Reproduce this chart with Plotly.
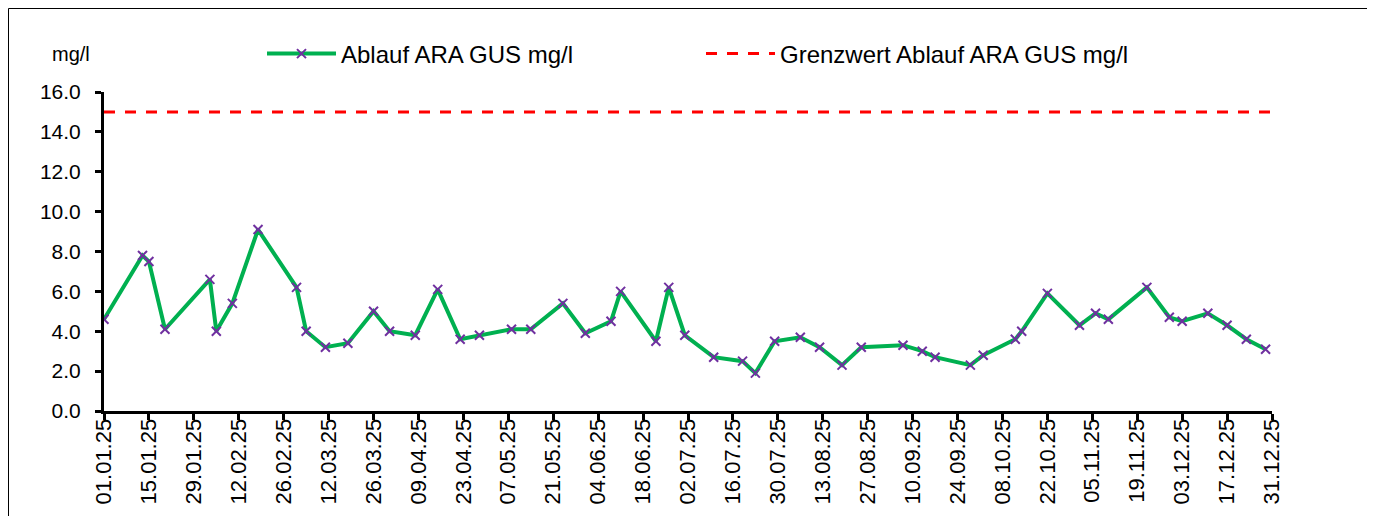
import plotly.graph_objects as go

# ---- data ----
dates = [
    "2025-01-01", "2025-01-13", "2025-01-15", "2025-01-20", "2025-02-03", "2025-02-05",
    "2025-02-10", "2025-02-18", "2025-03-02", "2025-03-05", "2025-03-11", "2025-03-18",
    "2025-03-26", "2025-03-31", "2025-04-08", "2025-04-15", "2025-04-22", "2025-04-28",
    "2025-05-08", "2025-05-14", "2025-05-24", "2025-05-31", "2025-06-08", "2025-06-11",
    "2025-06-22", "2025-06-26", "2025-07-01", "2025-07-10", "2025-07-19", "2025-07-23",
    "2025-07-29", "2025-08-06", "2025-08-12", "2025-08-19", "2025-08-25", "2025-09-07",
    "2025-09-13", "2025-09-17", "2025-09-28", "2025-10-02", "2025-10-12", "2025-10-14",
    "2025-10-22", "2025-11-01", "2025-11-06", "2025-11-10", "2025-11-22", "2025-11-29",
    "2025-12-03", "2025-12-11", "2025-12-17", "2025-12-23", "2025-12-29",
]
ablauf_values = [
    4.6, 7.8, 7.5, 4.1, 6.6, 4.0,
    5.4, 9.1, 6.2, 4.0, 3.2, 3.4,
    5.0, 4.0, 3.8, 6.1, 3.6, 3.8,
    4.1, 4.1, 5.4, 3.9, 4.5, 6.0,
    3.5, 6.2, 3.8, 2.7, 2.5, 1.9,
    3.5, 3.7, 3.2, 2.3, 3.2, 3.3,
    3.0, 2.7, 2.3, 2.8, 3.6, 4.0,
    5.9, 4.3, 4.9, 4.6, 6.2, 4.7,
    4.5, 4.9, 4.3, 3.6, 3.1,
]
limit_dates = ["2025-01-01", "2025-12-31"]
limit_values = [15.0, 15.0]

series_names = ["Ablauf ARA GUS mg/l", "Grenzwert Ablauf ARA GUS mg/l"]
y_unit_label = "mg/l"

# ---- layout geometry (pixels, in screenshot coordinates) ----
W, H = 1375, 516
OFF = 8  # page body margin
L, R, T, B = 104, 1272, 92, 411
pw, ph = R - L, B - T


def px(x):
    return (x - L) / pw


def py(y):
    return (B - y) / ph


FONT = "Liberation Sans, Arial, sans-serif"
GREEN = "#00B050"
PURPLE = "#7030A0"
RED = "#FF0000"

fig = go.Figure()
fig.add_trace(go.Scatter(
    x=dates, y=ablauf_values, mode="lines+markers", name=series_names[0],
    line=dict(color=GREEN, width=4),
    marker=dict(symbol="x-thin-open", size=9, color=PURPLE,
                line=dict(color=PURPLE, width=2)),
))
fig.add_trace(go.Scatter(
    x=limit_dates, y=limit_values, mode="lines", name=series_names[1],
    line=dict(color=RED, width=3, dash="11px,10px"),
))

fig.update_layout(
    width=W - OFF, height=H - OFF,
    margin=dict(l=L - OFF, r=W - R, t=T - OFF, b=H - B, pad=0, autoexpand=False),
    paper_bgcolor="white", plot_bgcolor="white",
    font=dict(family=FONT, color="black", size=21),
    showlegend=True,
    legend=dict(
        orientation="h", x=px(262), xanchor="left", y=py(54), yanchor="middle",
        font=dict(family=FONT, size=24, color="black"),
        itemwidth=69, entrywidth=355, bgcolor="rgba(0,0,0,0)",
        tracegroupgap=0,
    ),
    xaxis=dict(
        type="date", range=["2025-01-01", "2025-12-31"], automargin=False,
        tick0="2025-01-01", dtick=14 * 86400000, tickformat="%d.%m.%y",
        tickangle=-90, ticks="outside", ticklen=6, tickwidth=3, tickcolor="black",
        showline=True, linecolor="black", linewidth=3, showgrid=False, zeroline=False,
        tickfont=dict(family=FONT, size=22, color="black"),
        ticklabelstandoff=-10,
    ),
    yaxis=dict(
        range=[0, 16], dtick=2, tickformat=".1f", automargin=False,
        ticks="outside", ticklen=6, tickwidth=3, tickcolor="black",
        showline=True, linecolor="black", linewidth=3, showgrid=False, zeroline=False,
        tickfont=dict(family=FONT, size=21, color="black"),
        ticklabelstandoff=10,
    ),
    annotations=[dict(
        text=y_unit_label, xref="paper", yref="paper", x=px(50), y=py(54),
        xanchor="left", yanchor="middle", showarrow=False,
        font=dict(family=FONT, size=20, color="black"),
    )],
    shapes=[
        dict(type="line", xref="paper", yref="paper", x0=px(8.5), x1=px(1369), y0=py(8.5), y1=py(8.5),
             line=dict(color="black", width=1)),
        dict(type="line", xref="paper", yref="paper", x0=px(8.5), x1=px(8.5), y0=py(8.5), y1=py(530),
             line=dict(color="black", width=1)),
        dict(type="line", xref="paper", yref="paper", x0=px(1369.5), x1=px(1369.5), y0=py(8), y1=py(530),
             line=dict(color="#808080", width=2)),
    ],
)

fig.write_html("out.html")
